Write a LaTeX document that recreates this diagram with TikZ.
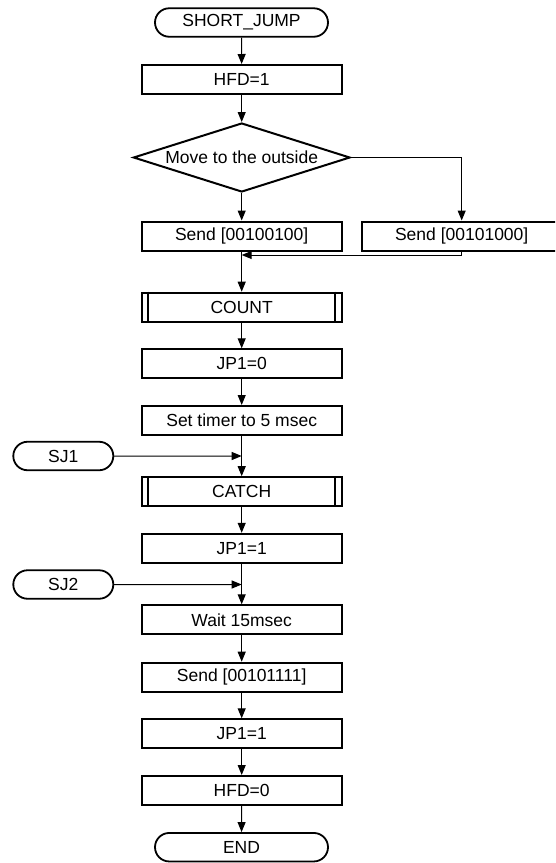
\documentclass[tikz,border=0pt]{standalone}
\usepackage{fontspec}
\setmainfont{Liberation Sans}
\usetikzlibrary{shapes.geometric,shapes.misc,arrows.meta}
\begin{document}
\begin{tikzpicture}[x=1pt,y=-1pt,
  font=\fontsize{17.5}{21}\selectfont,
  box/.style={draw,line width=2pt,minimum width=200pt,minimum height=29pt,inner sep=0pt},
  term/.style={draw,line width=1.8pt,rounded rectangle,minimum width=173pt,minimum height=28.5pt,inner sep=0pt},
  test/.style={draw,line width=2pt,diamond,aspect=3.14,minimum width=216.7pt,minimum height=69pt,inner sep=0pt},
  flow/.style={line width=1pt,-{Triangle[length=10pt,width=8pt]}}]
\useasboundingbox (0,0) rectangle (555,863);
\clip (0,0) rectangle (555,863);
% Main column
\node[term] (start) at (241.5,22.5) {SHORT\_JUMP};
\node[box] (hfd1) at (241.7,79.5) {HFD=1};
\node[test] (move) at (241.7,157.5) {Move to the outside};
\node[box] (send1) at (241.7,236) {Send [00100100]};
\node[box] (send2) at (461.7,236) {Send [00101000]};
\node[box] (count) at (241.7,307.2) {COUNT};
\node[box] (jp0) at (241.7,363.8) {JP1=0};
\node[box] (timer) at (241.7,420.5) {Set timer to 5 msec};
\node[box] (catch) at (241.7,491.7) {CATCH};
\node[box] (jp1a) at (241.7,548.3) {JP1=1};
\node[box] (wait) at (241.7,619.8) {Wait 15msec};
\node[box] (send3) at (241.7,677.2) {Send [00101111]};
\node[box] (jp1b) at (241.7,733.8) {JP1=1};
\node[box] (hfd0) at (241.7,790.5) {HFD=0};
\node[term] (end) at (241.5,847.2) {END};
% Entry points
\node[term,minimum width=100pt] (sj1) at (63.3,456) {SJ1};
\node[term,minimum width=100pt] (sj2) at (63.3,584.5) {SJ2};
% Sub-process bars
\foreach \n in {count,catch} {
  \draw[line width=2pt] ([xshift=7.5]\n.north west) -- ([xshift=7.5]\n.south west);
  \draw[line width=2pt] ([xshift=-7.5]\n.north east) -- ([xshift=-7.5]\n.south east);
}
% Joins on the main line
\coordinate (join) at (241.7,255);
\coordinate (in1) at (241.7,456);
\coordinate (in2) at (241.7,584.5);
% Connectors
\draw[flow] (start) -- (hfd1);
\draw[flow] (hfd1) -- (move);
\draw[flow] (move) -- (send1);
\draw[flow] (move.east) -| (send2.north);
\draw[flow] (send2.south) |- (join);
\draw[flow] (send1) -- (count);
\draw[flow] (count) -- (jp0);
\draw[flow] (jp0) -- (timer);
\draw[flow] (timer) -- (catch);
\draw[flow] (sj1) -- (in1);
\draw[flow] (catch) -- (jp1a);
\draw[flow] (jp1a) -- (wait);
\draw[flow] (sj2) -- (in2);
\draw[flow] (wait) -- (send3);
\draw[flow] (send3) -- (jp1b);
\draw[flow] (jp1b) -- (hfd0);
\draw[flow] (hfd0) -- (end);
\end{tikzpicture}
\end{document}
